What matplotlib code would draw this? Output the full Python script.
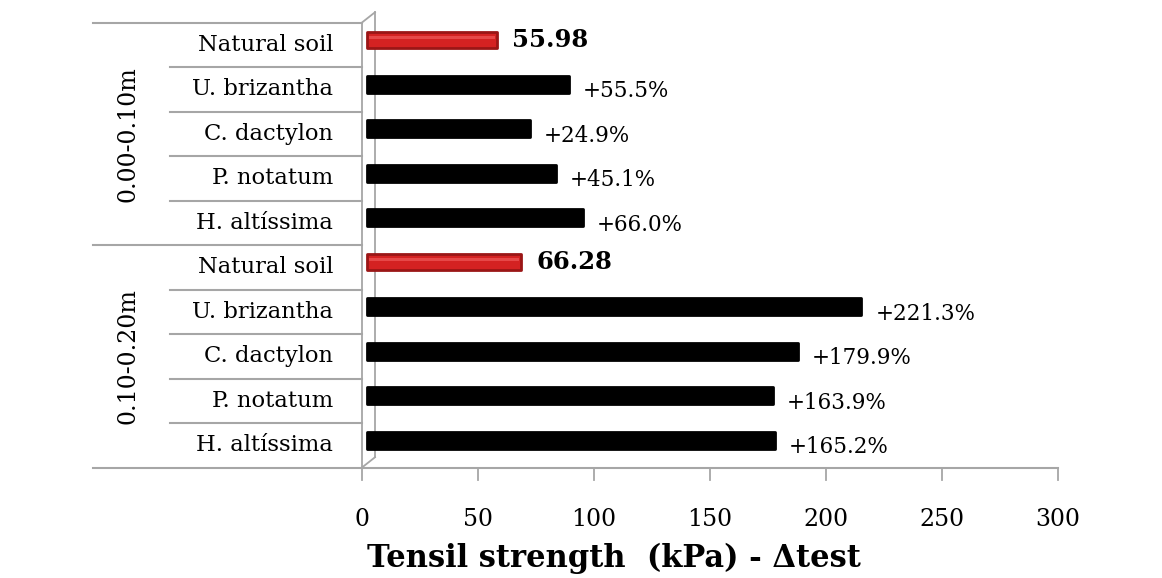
import matplotlib.pyplot as plt
import matplotlib as mpl

mpl.rcParams['font.family'] = 'DejaVu Serif'

# --- data ---
groups = ['0.00-0.10m', '0.10-0.20m']
species = ['Natural soil', 'U. brizantha', 'C. dactylon', 'P. notatum', 'H. altíssima']
natural_soil = [55.98, 66.28]          # kPa, reference for each depth
gain_top = [55.5, 24.9, 45.1, 66.0]    # % over natural soil, 0.00-0.10m
gain_bottom = [221.3, 179.9, 163.9, 165.2]  # % over natural soil, 0.10-0.20m
xticks = [0, 50, 100, 150, 200, 250, 300]

# build the ten rows (top to bottom)
labels, values, texts, colors = [], [], [], []
for base, gains in zip(natural_soil, [gain_top, gain_bottom]):
    labels.append(species[0])
    values.append(base)
    texts.append(f'{base:.2f}')
    colors.append('red')
    for sp, g in zip(species[1:], gains):
        labels.append(sp)
        values.append(base * (1 + g / 100))
        texts.append(f'+{g:.1f}%')
        colors.append('black')

W, H = 1162, 578
fig = plt.figure(figsize=(W / 100, H / 100), dpi=100)
ax = fig.add_axes([362 / W, 1 - 467.5 / H, 696 / W, 445 / H])
ax.set_xlim(0, 300)
ax.set_ylim(9.5, -0.5)
ax.axis('off')

depth_x, depth_y = 5.6, 0.23   # pseudo-3D wall offset
grey = '#a6a6a6'

# back wall
wall = dict(color=grey, lw=1.3, clip_on=False, zorder=1)
ax.plot([0, 0], [-0.5, 9.5], **wall)
ax.plot([depth_x, depth_x], [-0.5 - depth_y, 9.5 - depth_y], **wall)
ax.plot([0, depth_x], [-0.5, -0.5 - depth_y], **wall)
ax.plot([0, depth_x], [9.5, 9.5 - depth_y], **wall)

# floor axis with ticks
ax.plot([0, 300], [9.5, 9.5], color=grey, lw=1.5, clip_on=False, zorder=1)
for t in xticks:
    ax.plot([t, t], [9.5, 9.78], color=grey, lw=1.3, clip_on=False)
    ax.text(t, 10.66, str(t), ha='center', va='center', fontsize=17)
ax.text(108.6, 11.55, 'Tensil strength  (kPa) - Δtest', ha='center', va='center',
        fontsize=22, fontweight='bold')

# bars
start = 2.3
yoff = -0.11
for i, (v, c, txt) in enumerate(zip(values, colors, texts)):
    y = i + yoff
    if c == 'red':
        ax.barh(y, v, left=start, height=0.36, color='#d42222',
                edgecolor='#9a1616', linewidth=2, joinstyle='round', zorder=3)
        ax.barh(y - 0.06, v - 1.5, left=start + 0.75, height=0.07,
                color='#e64848', linewidth=0, zorder=4)
        ax.text(start + v + 6.5, y, txt, ha='left', va='center', fontsize=17.5,
                fontweight='bold')
    else:
        ax.barh(y, v, left=start, height=0.38, color='black', edgecolor='black',
                linewidth=2, joinstyle='round', zorder=3)
        ax.text(start + v + 6, y + 0.15, txt, ha='left', va='center', fontsize=15.5)

# category labels and separators on the left
def to_ax_x(px):
    return (px - 362) / 696 * 300

for i, lab in enumerate(labels):
    ax.text(to_ax_x(333), i, lab, ha='right', va='center', fontsize=16.3)
for b in range(11):
    y = b - 0.5
    x0 = 93 if b in (0, 5, 10) else 170
    ax.plot([to_ax_x(x0), 0], [y, y], color=grey, lw=1.5, clip_on=False, zorder=1)

for g, name in enumerate(groups):
    ax.text(to_ax_x(128), g * 5 + 2, name, ha='center', va='center',
            rotation=90, fontsize=17)

fig.savefig('out.png', dpi=100, facecolor='white')
